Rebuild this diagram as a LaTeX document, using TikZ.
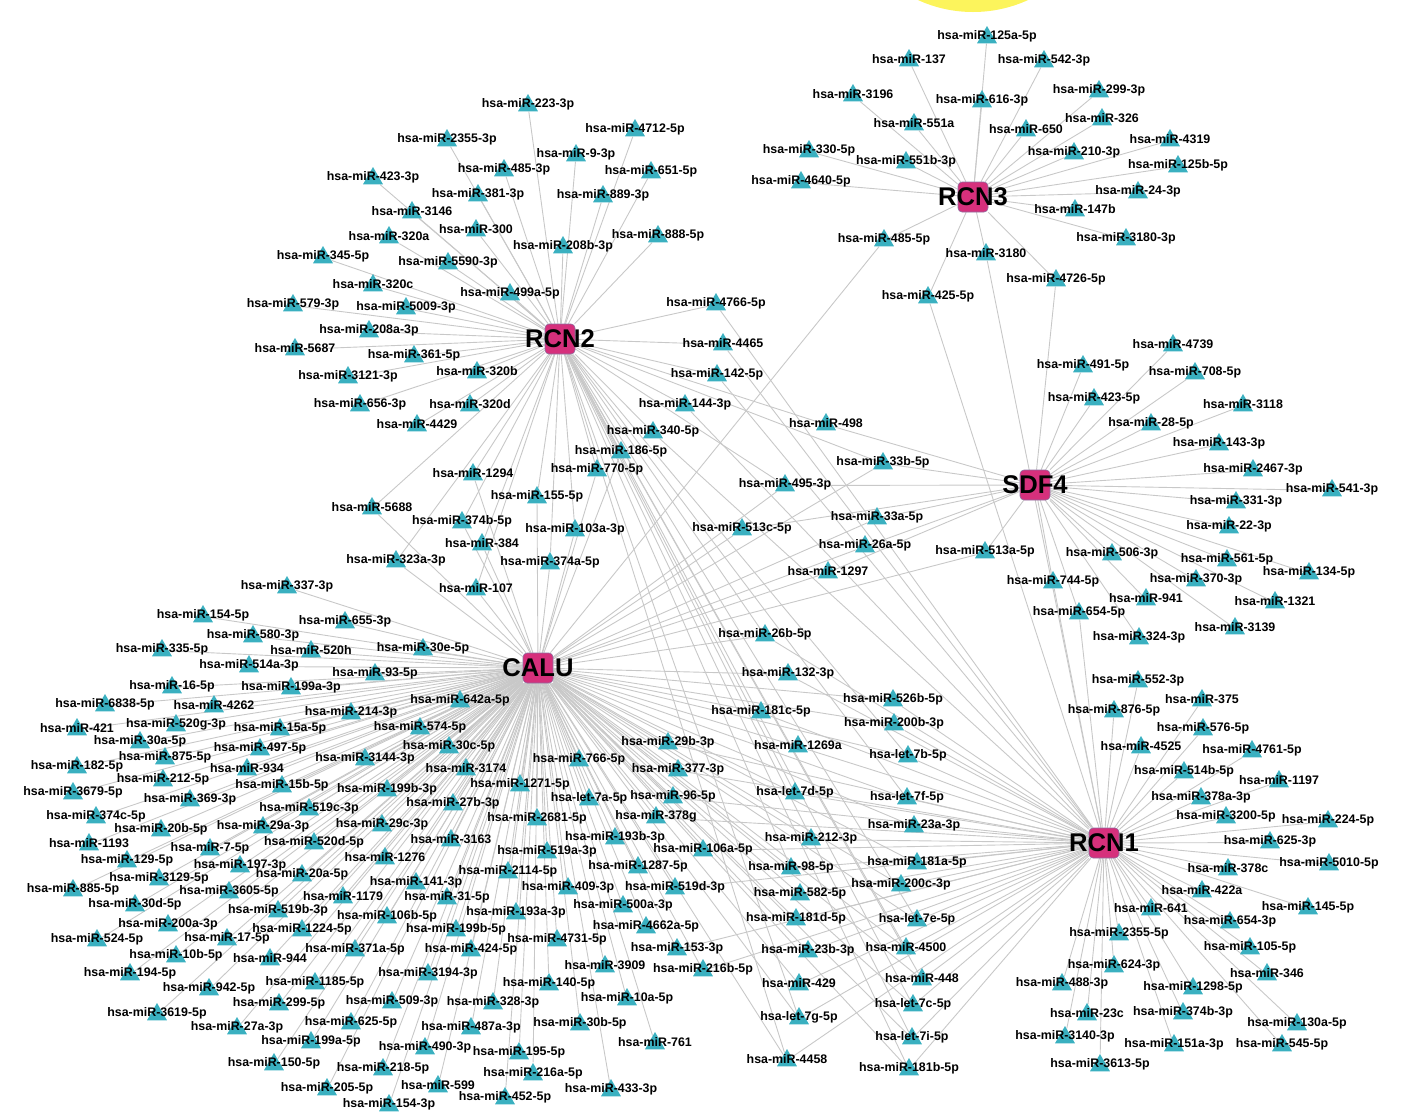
\documentclass[tikz,border=0pt]{standalone}
\usepackage{fontspec}
\setmainfont{Liberation Sans}
\usetikzlibrary{shapes.geometric}

\definecolor{mirfill}{RGB}{58,176,192}
\definecolor{hubfill}{RGB}{214,48,124}
\definecolor{hubline}{RGB}{140,110,160}
\definecolor{edgegray}{RGB}{200,200,200}
\definecolor{sunyellow}{RGB}{252,244,92}

\pgfdeclarelayer{background}
\pgfsetlayers{background,main}

\tikzset{
    mir/.style={regular polygon, regular polygon sides=3, minimum size=11.5pt,
        inner sep=0pt, fill=mirfill, draw=none, yshift=-1.25pt},
    mirtext/.style={font=\bfseries\fontsize{6.2}{7}\selectfont, inner sep=0pt, yshift=0.75pt},
    hub/.style={rectangle, rounded corners=2pt, minimum size=15pt, inner sep=0pt,
        fill=hubfill, draw=hubline, line width=0.3pt},
    hubtext/.style={font=\bfseries\fontsize{12.8}{14}\selectfont, inner sep=0pt},
    edge/.style={draw=edgegray, line width=0.45pt}
}

% node groups: name/x/y (pixels)
\def\grpRCNthree{miR-125a-5p/987/35, miR-137/909/58, miR-542-3p/1044/59, miR-3196/853/93,
    miR-299-3p/1099/89, miR-616-3p/982/99, miR-551a/914/122, miR-326/1102/117,
    miR-650/1026/128, miR-4319/1170/138, miR-330-5p/809/149, miR-210-3p/1074/151,
    miR-551b-3p/906/160, miR-125b-5p/1178/164, miR-4640-5p/801/180, miR-24-3p/1138/190,
    miR-147b/1075/208, miR-3180-3p/1126/237, miR-485-5p/884/238, miR-3180/986/252,
    miR-4726-5p/1056/278, miR-425-5p/928/295}

\def\grpRCNtwo{miR-223-3p/528/103, miR-2355-3p/447/138, miR-4712-5p/635/128, miR-9-3p/576/153,
    miR-485-3p/504/168, miR-651-5p/651/170, miR-423-3p/373/176, miR-381-3p/478/193,
    miR-889-3p/603/194, miR-3146/412/210, miR-300/476/228, miR-320a/389/235,
    miR-888-5p/658/234, miR-208b-3p/563/245, miR-345-5p/323/255, miR-5590-3p/448/261,
    miR-320c/373/283, miR-499a-5p/510/292, miR-579-3p/293/303, miR-5009-3p/406/306,
    miR-208a-3p/369/329, miR-5687/295/347, miR-361-5p/414/354, miR-3121-3p/348/375,
    miR-320b/477/370, miR-656-3p/360/403, miR-320d/470/403, miR-4429/417/423}

\def\grpMiddle{miR-4766-5p/716/302, miR-4465/723/342, miR-142-5p/717/373, miR-144-3p/685/403,
    miR-340-5p/653/430, miR-186-5p/621/450, miR-770-5p/597/468, miR-498/826/422,
    miR-33b-5p/883/461, miR-495-3p/785/483, miR-513c-5p/742/527, miR-33a-5p/877/516,
    miR-26a-5p/865/544, miR-1297/828/570, miR-26b-5p/765/633, miR-155-5p/537/495,
    miR-103a-3p/575/528, miR-374a-5p/550/561, miR-1294/473/472, miR-374b-5p/462/520,
    miR-384/482/542, miR-107/476/587, miR-5688/372/506, miR-323a-3p/396/559,
    miR-132-3p/788/672}

\def\grpSDFfour{miR-4739/1173/343, miR-491-5p/1083/364, miR-708-5p/1195/371, miR-423-5p/1094/397,
    miR-3118/1243/403, miR-28-5p/1151/422, miR-143-3p/1219/442, miR-2467-3p/1253/468,
    miR-541-3p/1332/488, miR-331-3p/1236/500, miR-22-3p/1229/525, miR-513a-5p/985/550,
    miR-506-3p/1112/552, miR-561-5p/1227/558, miR-134-5p/1309/571, miR-744-5p/1053/580,
    miR-370-3p/1196/578, miR-941/1146/597, miR-1321/1275/600, miR-654-5p/1079/611,
    miR-3139/1235/626, miR-324-3p/1139/636}

\def\grpCALU{miR-337-3p/287/585, miR-154-5p/203/614, miR-655-3p/345/620, miR-580-3p/253/634,
    miR-335-5p/162/648, miR-520h/311/649, miR-30e-5p/423/647, miR-514a-3p/249/664,
    miR-93-5p/375/672, miR-16-5p/172/685, miR-199a-3p/291/686, miR-6838-5p/105/703,
    miR-4262/214/704, miR-642a-5p/460/699, miR-214-3p/351/711, miR-421/77/727,
    miR-520g-3p/176/723, miR-15a-5p/280/727, miR-574-5p/420/726, miR-30a-5p/140/740,
    miR-497-5p/260/747, miR-30c-5p/449/745, miR-875-5p/165/756, miR-3144-3p/365/757,
    miR-182-5p/77/765, miR-934/247/767, miR-766-5p/579/758, miR-3174/466/767,
    miR-212-5p/163/778, miR-1271-5p/520/783, miR-3679-5p/73/791, miR-15b-5p/282/784,
    miR-199b-3p/387/788, let-7a-5p/589/797, miR-369-3p/190/798, miR-27b-3p/453/802,
    miR-519c-3p/309/807, miR-374c-5p/96/815, miR-2681-5p/537/817, miR-20b-5p/161/828,
    miR-29a-3p/263/825, miR-29c-3p/382/823, miR-193b-3p/615/836, miR-3163/451/838,
    miR-1193/89/842, miR-520d-5p/314/841, miR-7-5p/210/847, miR-519a-3p/547/850,
    miR-1276/385/856, miR-129-5p/127/859, miR-197-3p/240/864, miR-1287-5p/638/865,
    miR-3129-5p/159/877, miR-20a-5p/302/873, miR-2114-5p/508/870, miR-141-3p/416/881,
    miR-409-3p/568/886, miR-885-5p/73/888, miR-3605-5p/229/890, miR-1179/343/895,
    miR-31-5p/447/896, miR-30d-5p/135/903, miR-519b-3p/278/909, miR-106b-5p/387/915,
    miR-500a-3p/623/904, miR-193a-3p/516/911, miR-200a-3p/168/923, miR-1224-5p/302/928,
    miR-199b-5p/456/928, miR-4662a-5p/646/925, miR-524-5p/97/938, miR-17-5p/227/937,
    miR-4731-5p/557/938, miR-371a-5p/355/948, miR-424-5p/471/948, miR-10b-5p/176/954,
    miR-944/270/957, miR-3909/605/964, miR-3194-3p/428/972, miR-194-5p/130/972,
    miR-1185-5p/315/981, miR-140-5p/549/982, miR-942-5p/209/987, miR-299-5p/279/1002,
    miR-509-3p/392/1000, miR-328-3p/493/1001, miR-10a-5p/627/997, miR-3619-5p/157/1012,
    miR-625-5p/351/1021, miR-27a-3p/237/1026, miR-487a-3p/471/1026, miR-30b-5p/580/1022,
    miR-199a-5p/311/1040, miR-761/655/1041, miR-490-3p/425/1046, miR-195-5p/519/1051,
    miR-150-5p/274/1062, miR-218-5p/383/1067, miR-216a-5p/533/1072, miR-205-5p/327/1087,
    miR-599/438/1084, miR-433-3p/611/1088, miR-452-5p/505/1096, miR-154-3p/389/1103}

% CALU and RCN1 both
\def\grpBoth{miR-29b-3p/668/741, miR-377-3p/678/768, miR-96-5p/673/795, miR-378g/656/815,
    miR-106a-5p/703/848, miR-519d-3p/675/886, miR-153-3p/677/947, miR-216b-5p/703/968,
    miR-526b-5p/893/698, miR-181c-5p/761/710, miR-200b-3p/894/722, miR-1269a/798/744,
    let-7b-5p/908/754, let-7d-5p/795/791, let-7f-5p/907/796, miR-23a-3p/914/824,
    miR-212-3p/811/837, miR-98-5p/791/866, miR-181a-5p/917/861, miR-582-5p/800/892,
    miR-200c-3p/901/883, miR-181d-5p/796/917, let-7e-5p/917/918, miR-23b-3p/808/949,
    miR-4500/906/946, miR-429/799/982, miR-448/922/977, let-7c-5p/913/1003,
    let-7g-5p/799/1016, let-7i-5p/912/1036, miR-4458/787/1058, miR-181b-5p/909/1067}

\def\grpRCNone{miR-552-3p/1138/679, miR-375/1202/698, miR-876-5p/1114/709, miR-576-5p/1203/727,
    miR-4525/1141/745, miR-4761-5p/1252/749, miR-514b-5p/1184/770, miR-1197/1279/779,
    miR-378a-3p/1201/796, miR-3200-5p/1226/815, miR-224-5p/1328/819, miR-625-3p/1270/840,
    miR-378c/1228/867, miR-5010-5p/1329/862, miR-422a/1202/889, miR-641/1151/907,
    miR-145-5p/1308/906, miR-654-3p/1230/920, miR-2355-5p/1119/932, miR-105-5p/1250/946,
    miR-624-3p/1114/964, miR-346/1267/972, miR-488-3p/1062/982, miR-1298-5p/1193/986,
    miR-23c/1087/1012, miR-374b-3p/1183/1011, miR-130a-5p/1297/1022, miR-3140-3p/1065/1035,
    miR-151a-3p/1174/1043, miR-545-5p/1282/1043, miR-3613-5p/1100/1063}

\begin{document}
\begin{tikzpicture}[x=0.5pt, y=-0.5pt]
    \useasboundingbox (0,0) rectangle (1410,1115);
    \clip (0,0) rectangle (1410,1115);

    % yellow disc at the top edge
    \fill[sunyellow] (973,-120) circle (66pt);

    % hubs
    \node[hub, label={[hubtext]center:RCN2}] (RCN2) at (560,339) {};
    \node[hub, label={[hubtext]center:RCN3}] (RCN3) at (973,197) {};
    \node[hub, label={[hubtext]center:SDF4}] (SDF4) at (1035,485) {};
    \node[hub, label={[hubtext]center:CALU}] (CALU) at (538,668) {};
    \node[hub, label={[hubtext]center:RCN1}] (RCN1) at (1104,843) {};

    % miRNA nodes
    \foreach \m/\x/\y in \grpRCNthree
        \node[mir, label={[mirtext]center:hsa-\m}] (\m) at (\x,\y) {};
    \foreach \m/\x/\y in \grpRCNtwo
        \node[mir, label={[mirtext]center:hsa-\m}] (\m) at (\x,\y) {};
    \foreach \m/\x/\y in \grpMiddle
        \node[mir, label={[mirtext]center:hsa-\m}] (\m) at (\x,\y) {};
    \foreach \m/\x/\y in \grpSDFfour
        \node[mir, label={[mirtext]center:hsa-\m}] (\m) at (\x,\y) {};
    \foreach \m/\x/\y in \grpCALU
        \node[mir, label={[mirtext]center:hsa-\m}] (\m) at (\x,\y) {};
    \foreach \m/\x/\y in \grpBoth
        \node[mir, label={[mirtext]center:hsa-\m}] (\m) at (\x,\y) {};
    \foreach \m/\x/\y in \grpRCNone
        \node[mir, label={[mirtext]center:hsa-\m}] (\m) at (\x,\y) {};

    \begin{pgfonlayer}{background}
        % edges of each group to its hub
        \foreach \m/\x/\y in \grpRCNthree
            \draw[edge] (RCN3) -- (\m);
        \foreach \m/\x/\y in \grpRCNtwo
            \draw[edge] (RCN2) -- (\m);
        \foreach \m/\x/\y in \grpSDFfour
            \draw[edge] (SDF4) -- (\m);
        \foreach \m/\x/\y in \grpCALU
            \draw[edge] (CALU) -- (\m);
        \foreach \m/\x/\y in \grpRCNone
            \draw[edge] (RCN1) -- (\m);
        \foreach \m/\x/\y in \grpBoth
        {
            \draw[edge] (CALU) -- (\m);
            \draw[edge] (RCN1) -- (\m);
        }

        % shared targets
        \foreach \m in {miR-4766-5p,miR-4465,miR-142-5p,miR-144-3p,miR-340-5p,miR-186-5p,
            miR-770-5p,miR-498,miR-33b-5p,miR-495-3p,miR-26b-5p,miR-155-5p,miR-103a-3p,
            miR-374a-5p,miR-1294,miR-374b-5p,miR-384,miR-107,miR-5688,miR-323a-3p,
            let-7b-5p,let-7d-5p,let-7f-5p,let-7e-5p,let-7c-5p,let-7g-5p,let-7i-5p,
            miR-98-5p,miR-4458,miR-4500,miR-448,miR-181b-5p}
            \draw[edge] (RCN2) -- (\m);
        \foreach \m in {miR-485-5p,miR-33b-5p,miR-495-3p,miR-513c-5p,miR-33a-5p,miR-26a-5p,
            miR-1297,miR-513a-5p,miR-26b-5p,miR-155-5p,miR-103a-3p,miR-374a-5p,miR-1294,
            miR-374b-5p,miR-384,miR-107,miR-5688,miR-323a-3p,miR-186-5p,miR-770-5p,miR-132-3p}
            \draw[edge] (CALU) -- (\m);
        \foreach \m in {miR-4726-5p,miR-498,miR-33b-5p,miR-495-3p,miR-513c-5p,miR-33a-5p,
            miR-26a-5p,miR-1297}
            \draw[edge] (SDF4) -- (\m);
        \foreach \m in {miR-4766-5p,miR-4465,miR-142-5p,miR-144-3p,miR-340-5p,miR-26b-5p,
            miR-3180,miR-425-5p,miR-744-5p,miR-654-5p,miR-132-3p}
            \draw[edge] (RCN1) -- (\m);
    \end{pgfonlayer}
\end{tikzpicture}
\end{document}
